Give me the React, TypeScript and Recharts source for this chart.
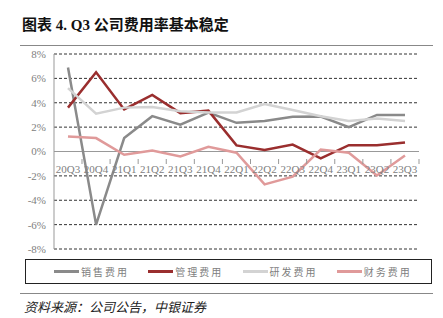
import { LineChart, Line, XAxis, YAxis, CartesianGrid, ReferenceLine } from 'recharts'

const quarters = ['20Q3', '20Q4', '21Q1', '21Q2', '21Q3', '21Q4', '22Q1', '22Q2', '22Q3', '22Q4', '23Q1', '23Q2', '23Q3']
const sales = [6.9, -6.0, 1.1, 2.9, 2.2, 3.2, 2.35, 2.5, 2.85, 2.87, 2.0, 3.0, 3.0]
const admin = [3.6, 6.5, 3.45, 4.65, 3.15, 3.35, 0.5, 0.13, 0.57, -0.57, 0.52, 0.52, 0.74]
const rnd = [5.2, 3.1, 3.6, 3.65, 3.3, 3.2, 3.2, 3.9, 3.4, 2.9, 2.5, 2.7, 2.5]
const finance = [1.23, 1.1, -0.27, 0.08, -0.4, 0.38, -0.1, -2.7, -2.07, 0.16, -0.1, -1.97, -0.33]
const yTicks = [-8, -6, -4, -2, 0, 2, 4, 6, 8]

const series = [
  { key: 'sales', name: '销售费用', color: '#8a8a8a' },
  { key: 'admin', name: '管理费用', color: '#9a2e2e' },
  { key: 'rnd', name: '研发费用', color: '#d3d3d3' },
  { key: 'finance', name: '财务费用', color: '#e09a9a' },
]

const data = quarters.map((q, i) => ({
  q,
  sales: sales[i],
  admin: admin[i],
  rnd: rnd[i],
  finance: finance[i],
}))

const serif = '"Liberation Serif", "Times New Roman", "Noto Sans CJK SC", serif'

// x axis sits at the 0% line, so ticks are drawn up from the bottom of the plot
const ZERO_OFFSET = 97

function QuarterTick(props: any) {
  const { x, y, payload } = props
  const top = y - ZERO_OFFSET
  return (
    <g>
      <line x1={x + 14} x2={x + 14} y1={top - 1} y2={top + 4} stroke="#999" />
      <text x={x} y={top + 13} textAnchor="middle" fill="#808080" fontSize={11} fontFamily={serif}>
        {payload.value}
      </text>
    </g>
  )
}

function LegendBox() {
  return (
    <div
      style={{
        position: 'absolute',
        left: 25,
        top: 259,
        width: 407,
        height: 25,
        border: '1px solid #222',
        display: 'flex',
        alignItems: 'center',
        boxSizing: 'border-box',
      }}
    >
      {series.map((s) => (
        <div key={s.key} style={{ display: 'flex', alignItems: 'center', width: 95, marginLeft: s.key === 'sales' ? 28 : 0 }}>
          <span style={{ display: 'inline-block', width: 25, height: 3, background: s.color }} />
          <span style={{ fontSize: 10, color: '#808080', marginLeft: 2, letterSpacing: 2, fontFamily: '"Noto Sans CJK SC", sans-serif' }}>
            {s.name}
          </span>
        </div>
      ))}
    </div>
  )
}

export default function App() {
  return (
    <div style={{ position: 'absolute', left: 0, top: 0, width: 443, height: 318, background: '#fff', fontFamily: serif }}>
      <div style={{ position: 'absolute', left: 0, top: 0 }}>
        <LineChart width={443} height={318} data={data} margin={{ top: 54, right: 24, left: 0, bottom: 49 }}>
          <CartesianGrid vertical={false} stroke="#333" strokeDasharray="3 2" />
          <XAxis
            dataKey="q"
            axisLine={false}
            tickLine={false}
            height={20}
            tick={<QuarterTick />}
            interval={0}
            padding={{ left: 14, right: 14 }}
          />
          <YAxis
            domain={[-8, 8]}
            ticks={yTicks}
            width={54}
            tickFormatter={(v: number) => `${v}%`}
            tick={{ fill: '#808080', fontSize: 11, fontFamily: serif }}
            axisLine={{ stroke: '#999' }}
            tickLine={false}
          />
          <ReferenceLine y={0} stroke="#999" strokeWidth={1} />
          {series.map((s) => (
            <Line
              key={s.key}
              type="linear"
              dataKey={s.key}
              name={s.name}
              stroke={s.color}
              strokeWidth={2.5}
              dot={false}
              isAnimationActive={false}
            />
          ))}
        </LineChart>
      </div>
      <div style={{ position: 'absolute', left: 22, top: 13, fontSize: 15, fontWeight: 'bold', color: '#111', fontFamily: serif }}>
        图表 4. Q3 公司费用率基本稳定
      </div>
      <div style={{ position: 'absolute', left: 20, top: 45, width: 413, height: 1, background: '#888' }} />
      <LegendBox />
      <div style={{ position: 'absolute', left: 20, top: 293, width: 413, height: 1, background: '#888' }} />
      <div style={{ position: 'absolute', left: 24, top: 297, fontSize: 13, fontStyle: 'italic', color: '#222', fontFamily: serif }}>
        资料来源：公司公告，中银证券
      </div>
    </div>
  )
}
